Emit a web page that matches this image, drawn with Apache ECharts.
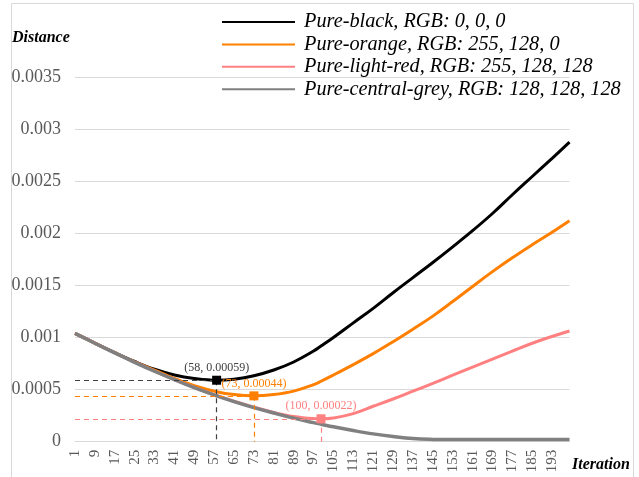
<!DOCTYPE html>
<html>
<head>
<meta charset="utf-8">
<script src="https://cdn.jsdelivr.net/npm/echarts@6/dist/echarts.min.js"></script>
<style>
  html, body { margin: 0; padding: 0; background: #ffffff; }
  #chart { width: 639px; height: 477px; }
</style>
</head>
<body>
<div id="chart"></div>
<script>
// Iteration categories 1..200 on the x axis
const categories = Array.from({ length: 200 }, (_, i) => String(i + 1));

// Iterations at which each curve is sampled
const sampleIterations = [1, 9, 17, 25, 33, 41, 49, 58, 65, 73, 81, 89, 97, 100, 105, 113, 121, 129, 137, 145, 153, 161, 169, 177, 185, 193, 200];

// Distance per iteration for each pure colour
const blackValues = [0.001040, 0.000946, 0.000855, 0.000770, 0.000695, 0.000640, 0.000607, 0.00059, 0.000600, 0.000633, 0.000688, 0.000765, 0.000870, 0.000918, 0.001000, 0.001140, 0.001280, 0.001430, 0.001575, 0.001720, 0.001870, 0.002025, 0.002190, 0.002370, 0.002545, 0.002720, 0.002875];
const orangeValues = [0.001040, 0.000946, 0.000854, 0.000766, 0.000688, 0.000607, 0.000538, 0.000480, 0.000452, 0.00044, 0.000452, 0.000485, 0.000548, 0.000580, 0.000640, 0.000740, 0.000845, 0.000960, 0.001080, 0.001205, 0.001345, 0.001490, 0.001632, 0.001765, 0.001890, 0.002010, 0.002120];
const lightRedValues = [0.001040, 0.000946, 0.000853, 0.000763, 0.000678, 0.000597, 0.000520, 0.000443, 0.000388, 0.000332, 0.000281, 0.000242, 0.000222, 0.00022, 0.000228, 0.000270, 0.000340, 0.000410, 0.000485, 0.000560, 0.000638, 0.000716, 0.000793, 0.000870, 0.000945, 0.001010, 0.001062];
const greyValues = [0.001040, 0.000945, 0.000852, 0.000762, 0.000676, 0.000595, 0.000518, 0.000440, 0.000385, 0.000327, 0.000275, 0.000226, 0.000183, 0.000168, 0.000143, 0.000107, 0.000075, 0.000050, 0.000030, 0.000022, 0.000020, 0.000020, 0.000020, 0.000020, 0.000020, 0.000020, 0.000020];

// Minimum point of each curve (iteration, distance)
const blackMinimum = [58, 0.00059];
const orangeMinimum = [73, 0.00044];
const lightRedMinimum = [100, 0.00022];

const seriesNames = [
  'Pure-black, RGB: 0, 0, 0',
  'Pure-orange, RGB: 255, 128, 0',
  'Pure-light-red, RGB: 255, 128, 128',
  'Pure-central-grey, RGB: 128, 128, 128'
];

const SERIF = 'Liberation Serif';

function pairs(values) {
  return sampleIterations.map((it, i) => [String(it), values[i]]);
}

function minimumMarks(minimum, markColor, labelColor, dashColor) {
  const it = String(minimum[0]);
  const v = minimum[1];
  return {
    markPoint: {
      symbol: 'rect',
      symbolSize: 9,
      silent: true,
      animation: false,
      data: [{
        coord: [it, v],
        itemStyle: { color: markColor },
        label: {
          show: true,
          position: 'top',
          distance: 2,
          formatter: '(' + minimum[0] + ', ' + v + ')',
          color: labelColor,
          fontFamily: SERIF,
          fontSize: 12
        }
      }]
    },
    markLine: {
      symbol: ['none', 'none'],
      silent: true,
      animation: false,
      label: { show: false },
      lineStyle: { color: dashColor, type: [5, 4], width: 1.2 },
      data: [
        [{ coord: [categories[0], v] }, { coord: [it, v] }],
        [{ coord: [it, v] }, { coord: [it, 0] }]
      ]
    }
  };
}

function lineSeries(name, color, values, width, extra) {
  return Object.assign({
    name: name,
    type: 'line',
    data: pairs(values),
    smooth: 0.4,
    showSymbol: false,
    color: color,
    lineStyle: { color: color, width: width },
    emphasis: { disabled: true },
    animation: false
  }, extra || {});
}

const chart = echarts.init(document.getElementById('chart'), null, { renderer: 'canvas' });

chart.setOption({
  backgroundColor: '#ffffff',
  animation: false,
  grid: { left: 75, right: 69.5, top: 77, bottom: 35.3, containLabel: false },
  legend: {
    orient: 'vertical',
    left: 217,
    top: 6.5,
    icon: 'rect',
    itemWidth: 73,
    itemHeight: 2,
    itemGap: 1.4,
    selectedMode: false,
    data: seriesNames,
    textStyle: {
      fontFamily: SERIF,
      fontStyle: 'italic',
      fontSize: 20.3,
      color: '#000000',
      lineHeight: 21,
      padding: [0, 0, 0, 4]
    }
  },
  xAxis: {
    type: 'category',
    data: categories,
    boundaryGap: false,
    axisLine: { show: true, lineStyle: { color: '#d9d9d9', width: 1 } },
    axisTick: { show: false },
    splitLine: { show: false },
    axisLabel: {
      interval: 7,
      rotate: 90,
      margin: 8,
      fontFamily: SERIF,
      fontSize: 15,
      color: '#595959'
    }
  },
  yAxis: {
    type: 'value',
    min: 0,
    max: 0.0035,
    interval: 0.0005,
    axisLine: { show: false },
    axisTick: { show: false },
    splitLine: { lineStyle: { color: '#d9d9d9', width: 1 } },
    axisLabel: {
      margin: 14,
      fontFamily: SERIF,
      fontSize: 18,
      color: '#595959',
      formatter: v => String(parseFloat(v.toFixed(4)))
    }
  },
  graphic: [
    {
      type: 'rect',
      silent: true,
      shape: { x: 11.5, y: 3.5, width: 622, height: 480 },
      style: { fill: 'none', stroke: '#d9d9d9', lineWidth: 1 }
    },
    {
      type: 'text',
      left: 12,
      top: 30,
      silent: true,
      style: { text: 'Distance', font: 'italic bold 16px "Liberation Serif"', fill: '#000000' }
    },
    {
      type: 'text',
      left: 572,
      top: 457,
      silent: true,
      style: { text: 'Iteration', font: 'italic bold 16px "Liberation Serif"', fill: '#000000' }
    }
  ],
  series: [
    lineSeries(seriesNames[0], '#000000', blackValues, 3,
      minimumMarks(blackMinimum, '#000000', '#404040', '#404040')),
    lineSeries(seriesNames[1], '#ff8000', orangeValues, 3,
      minimumMarks(orangeMinimum, '#ff8000', '#ff8000', '#ff8000')),
    lineSeries(seriesNames[2], '#ff8080', lightRedValues, 3,
      minimumMarks(lightRedMinimum, '#ff8080', '#ff8080', '#ff8080')),
    lineSeries(seriesNames[3], '#808080', greyValues, 3.5)
  ]
});
</script>
</body>
</html>
